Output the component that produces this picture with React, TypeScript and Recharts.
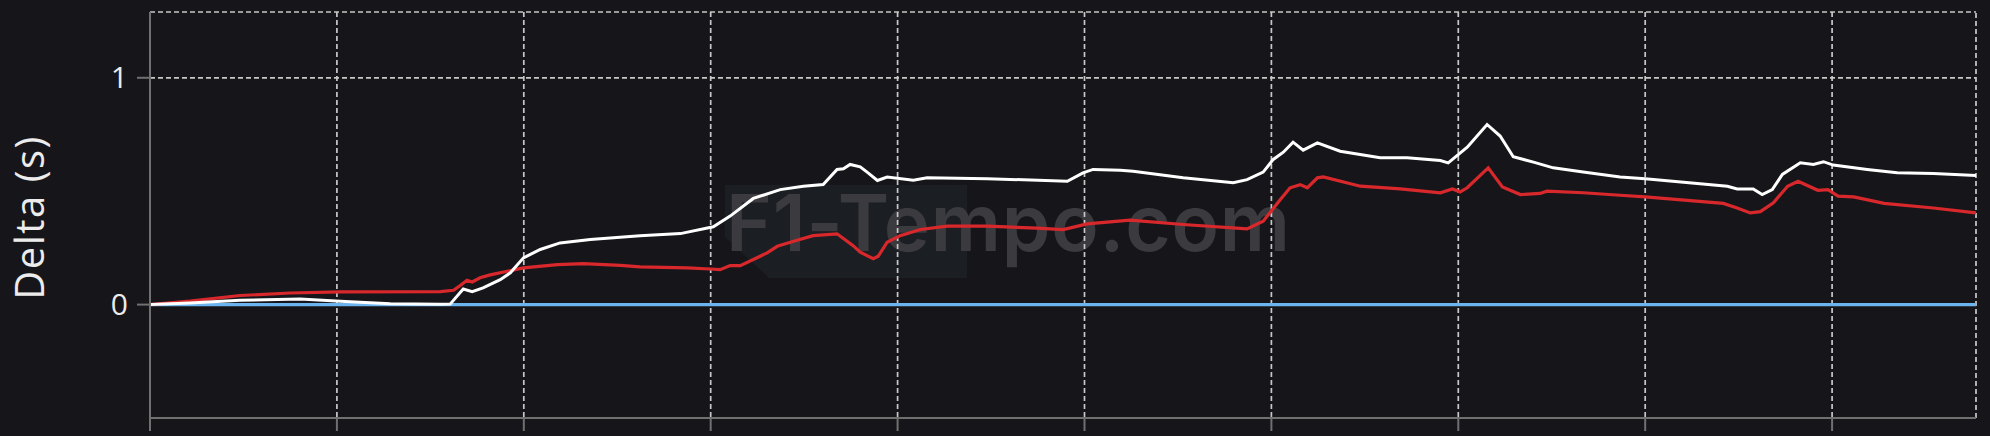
import React from "react";
import { LineChart, Line, XAxis, YAxis, CartesianGrid, ReferenceLine } from "recharts";

// distance along the lap (m)
const whiteDist = [0, 107, 241, 402, 509, 643, 777, 803, 838, 862, 891, 937, 964, 999, 1044, 1097, 1178, 1311, 1419, 1507, 1552, 1614, 1686, 1748, 1801, 1838, 1855, 1873, 1900, 1921, 1946, 1972, 2042, 2079, 2240, 2454, 2496, 2523, 2596, 2630, 2764, 2898, 2935, 2978, 3005, 3032, 3058, 3085, 3123, 3184, 3291, 3363, 3452, 3473, 3524, 3577, 3612, 3647, 3701, 3754, 3834, 3933, 4000, 4220, 4246, 4289, 4313, 4340, 4367, 4415, 4450, 4477, 4503, 4594, 4674, 4771, 4885];
const whiteDelta = [0, 0.007, 0.019, 0.025, 0.015, 0.004, 0.001, 0.002, 0.069, 0.057, 0.074, 0.11, 0.14, 0.206, 0.243, 0.272, 0.287, 0.304, 0.313, 0.343, 0.39, 0.468, 0.507, 0.522, 0.529, 0.596, 0.599, 0.618, 0.607, 0.581, 0.547, 0.562, 0.548, 0.559, 0.555, 0.544, 0.581, 0.596, 0.592, 0.588, 0.559, 0.537, 0.551, 0.584, 0.64, 0.672, 0.716, 0.681, 0.713, 0.676, 0.647, 0.647, 0.635, 0.625, 0.694, 0.794, 0.743, 0.652, 0.628, 0.603, 0.585, 0.563, 0.555, 0.522, 0.51, 0.51, 0.485, 0.507, 0.574, 0.625, 0.618, 0.63, 0.615, 0.596, 0.581, 0.578, 0.569];

const redDist = [0, 107, 241, 375, 509, 777, 812, 830, 848, 862, 883, 910, 956, 999, 1090, 1159, 1258, 1311, 1437, 1499, 1525, 1552, 1579, 1614, 1651, 1678, 1731, 1774, 1838, 1865, 1881, 1900, 1935, 1948, 1972, 2007, 2061, 2133, 2240, 2373, 2443, 2507, 2622, 2764, 2935, 2978, 3024, 3050, 3077, 3096, 3123, 3139, 3238, 3345, 3452, 3484, 3505, 3524, 3580, 3618, 3666, 3719, 3737, 3834, 3933, 4000, 4209, 4246, 4281, 4308, 4343, 4381, 4409, 4462, 4489, 4516, 4558, 4639, 4771, 4885];
const redDelta = [0, 0.015, 0.04, 0.051, 0.056, 0.057, 0.063, 0.084, 0.107, 0.1, 0.118, 0.131, 0.147, 0.162, 0.176, 0.181, 0.173, 0.166, 0.162, 0.157, 0.154, 0.172, 0.172, 0.199, 0.228, 0.257, 0.284, 0.304, 0.312, 0.279, 0.26, 0.231, 0.202, 0.213, 0.275, 0.304, 0.331, 0.346, 0.346, 0.337, 0.331, 0.356, 0.372, 0.353, 0.334, 0.368, 0.463, 0.515, 0.529, 0.515, 0.559, 0.563, 0.522, 0.51, 0.493, 0.51, 0.497, 0.515, 0.603, 0.519, 0.485, 0.49, 0.5, 0.493, 0.482, 0.475, 0.446, 0.426, 0.404, 0.41, 0.449, 0.522, 0.544, 0.504, 0.507, 0.478, 0.475, 0.446, 0.426, 0.404];

const refDist = [0, 4885];
const refDelta = [0, 0];

const xTicks = [0, 500, 1000, 1500, 2000, 2500, 3000, 3500, 4000, 4500];
const yTicks = [0, 1];
const yDomain: [number, number] = [-0.5, 1.29];
const xDomain: [number, number] = [0, 4885];

const whiteData = whiteDist.map((d, i) => ({ d, v: whiteDelta[i] }));
const redData = redDist.map((d, i) => ({ d, v: redDelta[i] }));
const refData = refDist.map((d, i) => ({ d, v: refDelta[i] }));

const BG = "#16161a";
const GRID = "#c8c8c8";
const AXIS = "#707070";
const FONT = "'Open Sans', 'Noto Sans', sans-serif";
const DASH = "5 3";

const EmptyTick = () => <g />;

export default function App() {
  return (
    <div style={{ position: "fixed", left: 0, top: 0, width: 1990, height: 436, background: BG, overflow: "hidden" }}>
      <svg width={1990} height={436} style={{ position: "absolute", left: 0, top: 0 }}>
        <polygon points="725,185 967,185 967,278 769,278 725,237" fill="#1b1e22" />
        <text x={726} y={251} fill="#3a3a3f" fontFamily="Inter, Roboto, sans-serif" fontWeight={600} fontSize={78} letterSpacing={0.8}>
          F1-Tempo.com
        </text>
      </svg>
      <div style={{ position: "absolute", left: 0, top: 0 }}>
        <LineChart width={1990} height={436} margin={{ top: 12, right: 14, bottom: 0, left: 0 }}>
          <CartesianGrid
            stroke={GRID}
            strokeDasharray={DASH}
            strokeWidth={1.7}
            horizontalValues={yTicks}
            verticalValues={xTicks}
          />
          <ReferenceLine y={1.29} stroke={GRID} strokeDasharray={DASH} strokeWidth={1.7} />
          <ReferenceLine x={4885} stroke={GRID} strokeDasharray={DASH} strokeWidth={1.7} />
          <XAxis
            type="number"
            dataKey="d"
            domain={xDomain}
            ticks={xTicks}
            interval={0}
            allowDataOverflow
            height={18}
            tick={EmptyTick}
            tickSize={13}
            axisLine={{ stroke: AXIS, strokeWidth: 2 }}
            tickLine={{ stroke: AXIS, strokeWidth: 2 }}
          />
          <YAxis
            type="number"
            domain={yDomain}
            ticks={yTicks}
            interval={0}
            allowDataOverflow
            width={150}
            tickSize={13}
            tickMargin={9}
            axisLine={{ stroke: AXIS, strokeWidth: 2 }}
            tickLine={{ stroke: AXIS, strokeWidth: 2 }}
            tick={{ fill: "#ececec", fontSize: 30, fontFamily: FONT }}
            label={{
              content: () => (
                <text
                  x={44}
                  y={217.5}
                  transform="rotate(-90, 44, 217.5)"
                  textAnchor="middle"
                  fill="#ececec"
                  fontSize={40}
                  fontFamily={FONT}
                  letterSpacing={1.5}
                >
                  Delta (s)
                </text>
              ),
            }}
          />
          <Line data={refData} dataKey="v" type="linear" stroke="#6cb4ee" strokeWidth={3.2} dot={false} isAnimationActive={false} />
          <Line data={redData} dataKey="v" type="linear" stroke="#d9282c" strokeWidth={3.2} dot={false} isAnimationActive={false} />
          <Line data={whiteData} dataKey="v" type="linear" stroke="#ffffff" strokeWidth={3} dot={false} isAnimationActive={false} />
        </LineChart>
      </div>
    </div>
  );
}
